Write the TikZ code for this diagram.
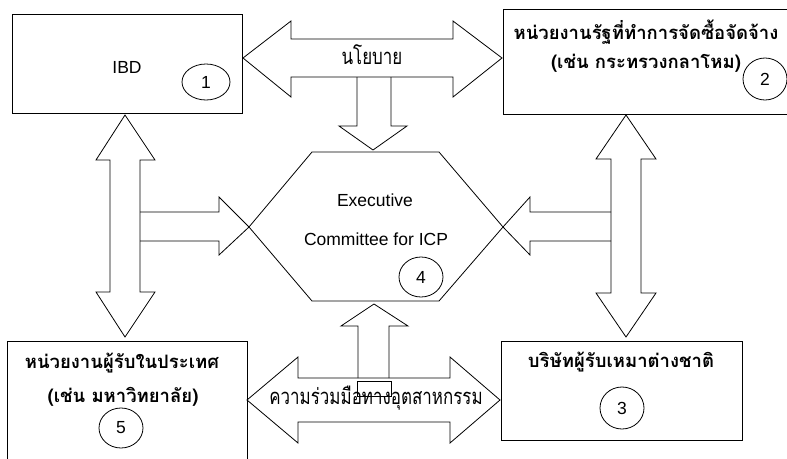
\documentclass[tikz,border=0pt]{standalone}
\usepackage{fontspec}
\setmainfont{Liberation Sans}
\newfontfamily\thaifont[Script=Thai]{Loma}
\newcommand{\narrowthai}[1]{\scalebox{0.77}[1]{#1}}
\begin{document}
\begin{tikzpicture}[x=1pt,y=-1pt,
  ln/.style={draw=black,line width=0.8pt,line join=miter},
  num/.style={inner sep=0pt,font=\fontsize{17.5}{18}\selectfont},
  en/.style={font=\fontsize{17.5}{18}\selectfont,inner sep=0pt},
  thb/.style={font=\thaifont\bfseries\fontsize{18.5}{19}\selectfont,inner sep=0pt},
  thn/.style={font=\thaifont\fontsize{22}{22}\selectfont,inner sep=0pt}]
\useasboundingbox (0,0) rectangle (787,458);
% boxes
\draw[ln] (12,14) rectangle (242,113);
\node[en] (ibd) at (127,67) {IBD};
\draw[ln] (790,9) -- (503,9) -- (503,114) -- (790,114);
\node[thb] (gov1) at (646,32) {หน่วยงานรัฐที่ทำการจัดซื้อจัดจ้าง};
\node[thb] (gov2) at (646,63) {(เช่น กระทรวงกลาโหม)};
\draw[ln] (7,460) -- (7,341) -- (247,341) -- (247,460);
\node[thb] (uni1) at (122,363) {หน่วยงานผู้รับในประเทศ};
\node[thb] (uni2) at (123,397) {(เช่น มหาวิทยาลัย)};
\draw[ln] (501,341) rectangle (742,440);
\node[thb] (corp) at (621,362) {บริษัทผู้รับเหมาต่างชาติ};
% hexagon
\draw[ln] (312,152) -- (439,152) -- (503,227) -- (439,301) -- (312,301) -- (249,227) -- cycle;
\node[en] (exe1) at (375,200) {Executive};
\node[en] (exe2) at (376,239) {Committee for ICP};
% numbered ellipses
\draw[ln] (206,82) ellipse [x radius=24,y radius=18];
\node[num] (n1) at (206,82) {1};
\draw[ln] (765,79) ellipse [x radius=22,y radius=21];
\node[num] (n2) at (765,79) {2};
\draw[ln] (622,408) ellipse [x radius=22,y radius=21];
\node[num] (n3) at (622,408) {3};
\draw[ln] (421,277) ellipse [x radius=22,y radius=20];
\node[num] (n4) at (421,277) {4};
\draw[ln] (121,428) ellipse [x radius=22,y radius=20];
\node[num] (n5) at (121,428) {5};
% policy double arrow
\draw[ln] (243,58) -- (291,21) -- (291,39) -- (453,39) -- (453,21) -- (502,58) -- (453,97) -- (453,77) -- (291,77) -- (291,97) -- cycle;
\node[thn] (pol) at (372,55) {\narrowthai{นโยบาย}};
% down arrow to hexagon
\draw[ln] (357,77) -- (357,126) -- (339,126) -- (373,150) -- (407,126) -- (391,126) -- (391,77);
% left vertical double arrow
\draw[ln] (125,115) -- (155,160) -- (140,160) -- (140,292) -- (155,292) -- (125,337) -- (96,292) -- (110,292) -- (110,160) -- (96,160) -- cycle;
% arrow from left into hexagon
\draw[ln] (140,212) -- (219,212) -- (219,197) -- (249,227) -- (219,255) -- (219,241) -- (140,241);
% right vertical double arrow
\draw[ln] (626,115) -- (656,159) -- (641,159) -- (641,293) -- (656,293) -- (626,337) -- (596,293) -- (611,293) -- (611,159) -- (596,159) -- cycle;
% arrow from right into hexagon
\draw[ln] (611,212) -- (530,212) -- (530,197) -- (503,227) -- (530,255) -- (530,241) -- (611,241);
% bottom double arrow
\draw[ln] (247,400) -- (298,357) -- (298,378) -- (450,378) -- (450,357) -- (500,400) -- (450,443) -- (450,422) -- (298,422) -- (298,443) -- cycle;
% up arrow to hexagon
\draw[ln] (358,378) -- (358,326) -- (341,326) -- (374,304) -- (408,326) -- (389,326) -- (389,378);
\draw[ln] (357,381) rectangle (391,396);
\node[thn] (coop) at (376,398) {\narrowthai{ความร่วมมือทางอุตสาหกรรม}};
\end{tikzpicture}
\end{document}
